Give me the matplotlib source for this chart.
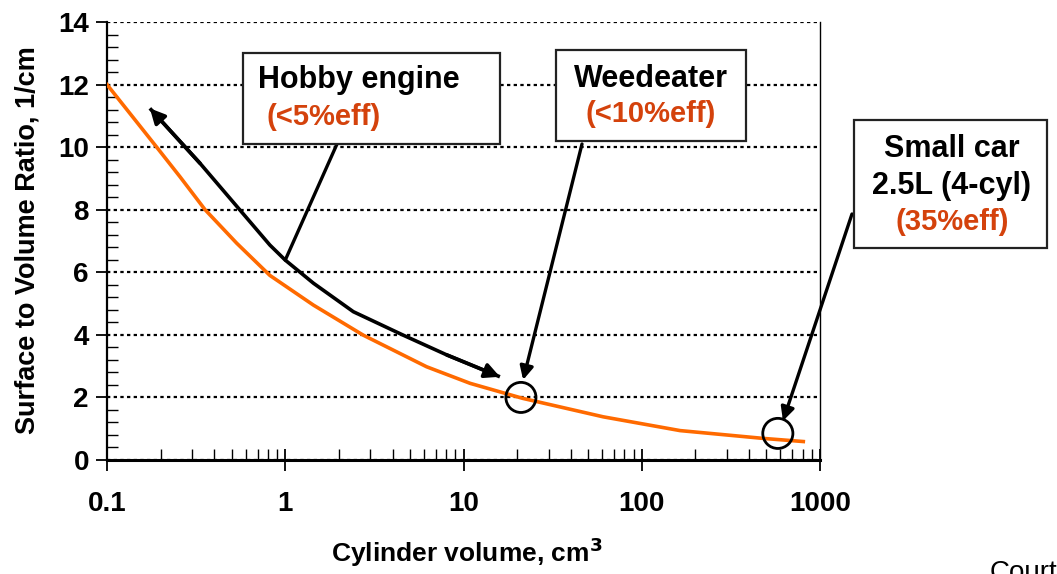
import numpy as np
import matplotlib
matplotlib.use('Agg')
from matplotlib import pyplot as plt
from matplotlib.ticker import FixedLocator, NullFormatter, LogLocator

plt.rcParams['font.family'] = ['Liberation Sans', 'DejaVu Sans']

# orange curve: surface/volume ratio vs cylinder volume
vol = [0.1, 0.19, 0.257, 0.355, 0.534, 0.82, 1.44, 2.74, 6.21, 10.9, 21.5, 60.8, 164, 481, 806]
sv_ratio = [12.0, 10.0, 9.05, 8.0, 6.93, 5.9, 4.95, 3.99, 2.98, 2.45, 1.97, 1.38, 0.94, 0.69, 0.59]

# black double-headed trend arrow
trend_x = [0.174, 0.333, 0.557, 0.82, 1.0, 1.44, 2.41, 4.59, 8.05, 16.0]
trend_y = [11.24, 9.48, 7.99, 6.87, 6.39, 5.65, 4.74, 3.99, 3.36, 2.66]

# circled points
circ_x = [21, 580]
circ_y = [2.0, 0.85]

y_ticks = [0, 2, 4, 6, 8, 10, 12, 14]
x_ticks = [0.1, 1, 10, 100, 1000]
x_ticklabels = ['0.1', '1', '10', '100', '1000']

W, H = 1057, 574
red = '#D4420C'
orange = '#FF6A00'


def fp(x, y):
    # pixel (top-left origin) -> figure fraction
    return (x / W, 1 - y / H)


fig = plt.figure(figsize=(W / 100, H / 100), dpi=100)
ax = fig.add_axes([107 / W, 1 - 460 / H, (820 - 107) / W, (460 - 22) / H])

ax.set_xscale('log')
ax.set_xlim(0.1, 1000)
ax.set_ylim(0, 14)

for yt in y_ticks:
    ax.axhline(yt, color='k', lw=1.6, linestyle=(0, (1.5, 1.5)), zorder=1)

ax.plot(vol, sv_ratio, color=orange, lw=2.6, zorder=3, solid_joinstyle='round')

ax.plot(trend_x, trend_y, color='k', lw=2.6, zorder=4, solid_capstyle='butt',
        solid_joinstyle='round')
ax.annotate('', xy=(trend_x[0], trend_y[0]), xytext=(trend_x[1], trend_y[1]),
            arrowprops=dict(arrowstyle='-|>', color='k', lw=2.6, mutation_scale=22,
                            shrinkA=0, shrinkB=0), zorder=4)
ax.annotate('', xy=(trend_x[-1], trend_y[-1]), xytext=(trend_x[-2], trend_y[-2]),
            arrowprops=dict(arrowstyle='-|>', color='k', lw=2.6, mutation_scale=22,
                            shrinkA=0, shrinkB=0), zorder=4)

ax.scatter(circ_x, circ_y, s=470, facecolors='none', edgecolors='k', linewidths=2, zorder=5)

ax.set_xticks(x_ticks)
ax.set_xticklabels(x_ticklabels)
ax.xaxis.set_minor_locator(LogLocator(base=10, subs=np.arange(2, 10)))
ax.xaxis.set_minor_formatter(NullFormatter())
ax.set_yticks(y_ticks)
ax.yaxis.set_minor_locator(FixedLocator(np.arange(0, 14.01, 0.4)))

ax.tick_params(axis='x', which='major', direction='inout', length=16, width=1.3,
               pad=14, labelsize=20)
ax.tick_params(axis='x', which='minor', direction='in', length=8, width=1)
ax.tick_params(axis='y', which='major', direction='out', length=8, width=1.3,
               pad=5, labelsize=20)
ax.tick_params(axis='y', which='minor', direction='in', length=8, width=1)
for lbl in ax.get_xticklabels() + ax.get_yticklabels():
    lbl.set_fontweight('bold')

ax.spines['top'].set_visible(False)
ax.spines['left'].set_linewidth(1.6)
ax.spines['bottom'].set_linewidth(2.2)
ax.spines['right'].set_linewidth(1.0)

ax.set_xlabel('Cylinder volume, cm$^{\\mathbf{3}}$', fontsize=19, fontweight='bold')
ax.set_ylabel('Surface to Volume Ratio, 1/cm', fontsize=19.5, fontweight='bold')
ax.xaxis.label.set_va('center')
ax.yaxis.label.set_va('center')
ax.xaxis.set_label_coords((467 - 107) / (820 - 107), -(552 - 460) / (460 - 22))
ax.yaxis.set_label_coords(-(107 - 28) / (820 - 107), (460 - 240) / (460 - 22))


# annotation boxes
def box(x0, y0, x1, y1):
    r = plt.Rectangle(fp(x0, y1), (x1 - x0) / W, (y1 - y0) / H, transform=fig.transFigure,
                      facecolor='white', edgecolor='#222222', lw=1.6, zorder=6)
    fig.add_artist(r)


box(243, 53, 500, 144)
fig.text(*fp(258, 80), 'Hobby engine', fontsize=22, fontweight='bold', va='center', ha='left', zorder=7)
fig.text(*fp(266, 117), '(<5%eff)', fontsize=21, fontweight='bold', color=red, va='center', ha='left', zorder=7)

box(556, 50, 746, 141)
fig.text(*fp(651, 79), 'Weedeater', fontsize=22, fontweight='bold', va='center', ha='center', zorder=7)
fig.text(*fp(651, 114), '(<10%eff)', fontsize=21, fontweight='bold', color=red, va='center', ha='center', zorder=7)

box(854, 120, 1047, 248)
fig.text(*fp(952, 149), 'Small car', fontsize=22, fontweight='bold', va='center', ha='center', zorder=7)
fig.text(*fp(952, 186), '2.5L (4-cyl)', fontsize=22, fontweight='bold', va='center', ha='center', zorder=7)
fig.text(*fp(952, 222), '(35%eff)', fontsize=21, fontweight='bold', color=red, va='center', ha='center', zorder=7)

# connectors
ax.annotate('', xy=(trend_x[4], trend_y[4]), xycoords='data',
            xytext=fp(337, 144), textcoords='figure fraction',
            arrowprops=dict(arrowstyle='-', color='k', lw=2.4, shrinkA=0, shrinkB=0), zorder=5)
ax.annotate('', xy=(21.6, 2.56), xycoords='data',
            xytext=fp(582, 144), textcoords='figure fraction',
            arrowprops=dict(arrowstyle='-|>', color='k', lw=2.4, mutation_scale=20,
                            shrinkA=0, shrinkB=0), zorder=5, annotation_clip=False)
ax.annotate('', xy=(620, 1.25), xycoords='data',
            xytext=fp(852, 214), textcoords='figure fraction',
            arrowprops=dict(arrowstyle='-|>', color='k', lw=2.4, mutation_scale=20,
                            shrinkA=0, shrinkB=0), zorder=5, annotation_clip=False)

fig.text(*fp(990, 560), 'Courtesy', fontsize=20, va='top', ha='left')

fig.savefig('out.png', dpi=100)
